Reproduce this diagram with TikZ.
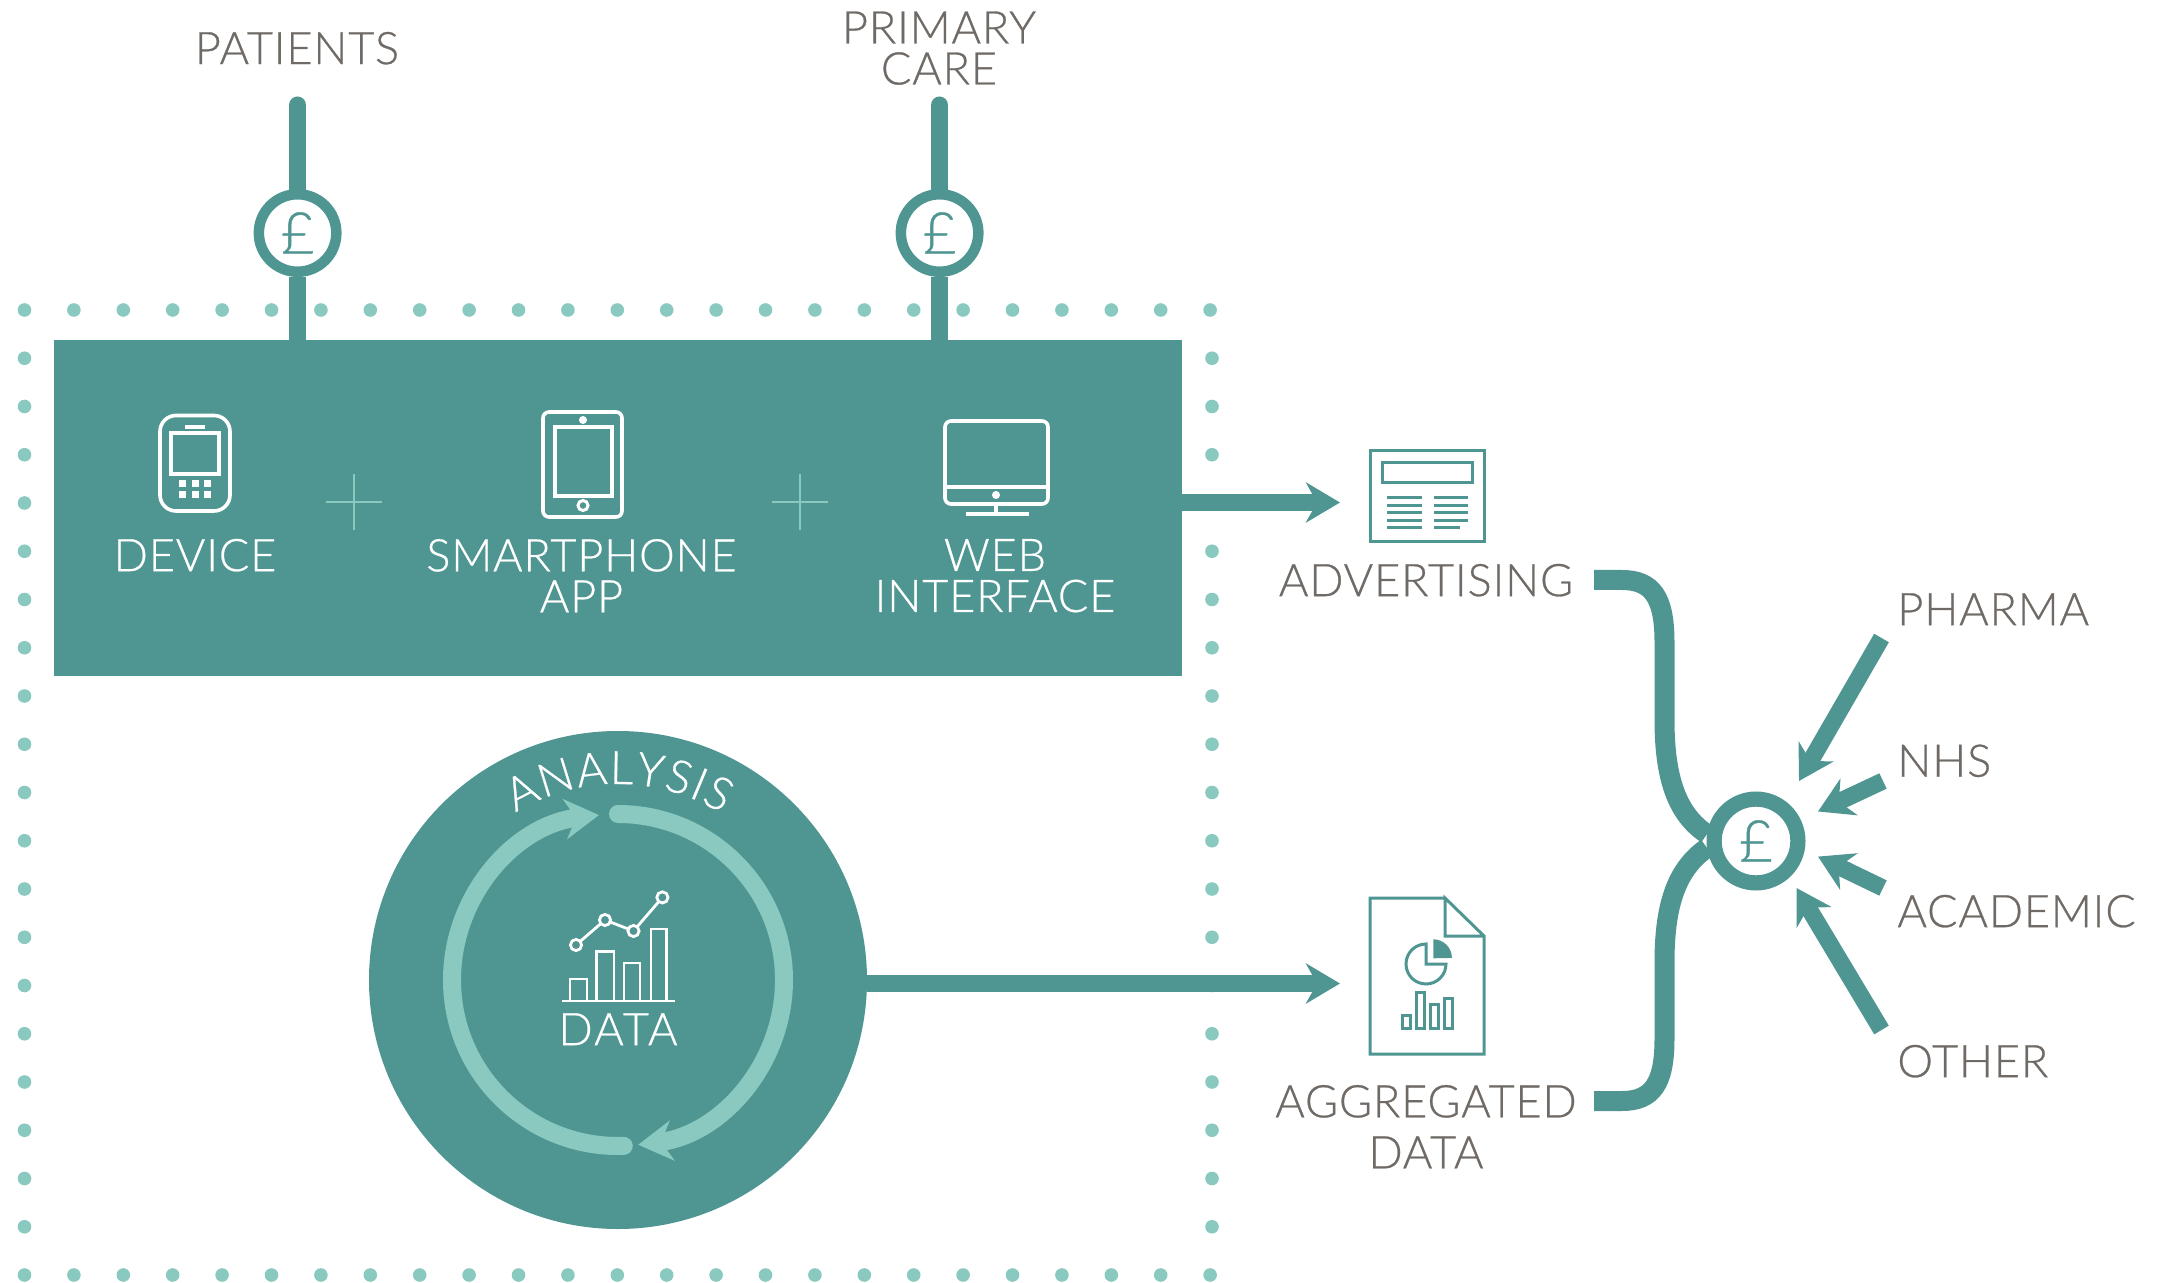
\documentclass[tikz,border=0pt]{standalone}
\usepackage{fontspec}
\usetikzlibrary{arrows.meta,backgrounds,decorations.text,calc}
\newfontfamily\lablight{Lato Light}[FakeBold=0.6,LetterSpace=2]
\newfontfamily\coinfont{Lato Light}[FakeBold=0.6]
\definecolor{teal1}{HTML}{4F9693}
\definecolor{mint}{HTML}{8AC9BF}
\definecolor{greytxt}{HTML}{6F6A65}
\newcommand{\labfont}{\lablight\fontsize{22.5}{20.5}\selectfont}
\tikzset{
  dotm/.style={fill=mint,draw=none},
  coin/.style={circle,fill=white,draw=teal1,line width=5.25pt,minimum size=38.75pt,inner sep=0pt,text=teal1,font=\coinfont\fontsize{29}{29}\selectfont},
  stem/.style={draw=teal1,line width=8.5pt},
  flow/.style={draw=teal1,line width=8.5pt,-{Stealth[length=17pt,width=20pt,inset=5.5pt]}},
  swoop/.style={draw=teal1,line width=10pt},
  darklab/.style={text=greytxt,font=\labfont,align=center,inner sep=0pt,yshift=-0.1pt},
  whitelab/.style={text=white,font=\labfont,align=center,inner sep=0pt,yshift=-0.1pt},
  wicon/.style={draw=white,line width=1.8pt},
  ticon/.style={draw=teal1,line width=1.5pt},
  chartl/.style={draw=white,line width=1.4pt},
  plusm/.style={draw=mint,line width=1.2pt},
  ring/.style={draw=mint,line width=9pt},
}
\begin{document}
\begin{tikzpicture}[x=0.5pt,y=-0.5pt]
\useasboundingbox (0,0) rectangle (2159,1283);
% main nodes
\node[fill=teal1,minimum width=564pt,minimum height=168pt,inner sep=0pt] (box) at (618,508) {};
\node[circle,fill=teal1,minimum size=249pt,inner sep=0pt] (big) at (618,980) {};
\node[coin] (c1) at (297.6,233) {£};
\node[coin] (c2) at (939.6,233) {£};
\node[coin,line width=7.6pt,minimum size=41.9pt] (c3) at (1756,841) {£};
\coordinate (p1) at (297.6,105);
\coordinate (p2) at (939.6,105);
\coordinate (a1s) at (box.east |- 0,502.5);
\coordinate (a1e) at (1340,502.5);
\coordinate (a2e) at (1340,983.5);
\coordinate (a2s) at (big.east |- a2e);
\coordinate (s1) at (1594,580);
\coordinate (s2) at (1594,1101);
\coordinate (r1s) at (1881.5,638);
\coordinate (r1e) at (1799,781);
\coordinate (r2s) at (1883,781);
\coordinate (r2e) at (1818,811.5);
\coordinate (r3s) at (1883,888);
\coordinate (r3e) at (1818,856.6);
\coordinate (r4s) at (1881.5,1030);
\coordinate (r4e) at (1796.5,888);
\begin{scope}[on background layer]
  \foreach \k in {0,...,24} {
    \fill[dotm] (24.5+49.4*\k,310) circle[radius=3.4pt];
    \fill[dotm] (24.5+49.4*\k,1275) circle[radius=3.4pt];
  }
  \foreach \k in {1,...,19} {
    \fill[dotm] (24.5,310+48.25*\k) circle[radius=3.4pt];
    \fill[dotm] (1212,310+48.25*\k) circle[radius=3.4pt];
  }
  \draw[stem,line cap=round] (p1) -- (c1);
  \draw[stem,line cap=round] (p2) -- (c2);
  \draw[stem] (c1) -- (c1 |- box.north);
  \draw[stem] (c2) -- (c2 |- box.north);
  \draw[flow] (a1s) -- (a1e);
  \draw[flow] (a2s) -- (a2e);
  \draw[swoop] (s1) -- ++(28,0) .. controls (1652,580) and (1664.5,597) .. (1664.5,642) -- (1664.5,720) .. controls (1664.5,780) and (1678,815) .. (c3.172);
  \draw[swoop] (s2) -- ++(28,0) .. controls (1652,1101) and (1664.5,1084) .. (1664.5,1039) -- (1664.5,962) .. controls (1664.5,902) and (1678,868) .. (c3.188);
  \draw[flow] (r1s) -- (r1e);
  \draw[flow] (r2s) -- (r2e);
  \draw[flow] (r3s) -- (r3e);
  \draw[flow] (r4s) -- (r4e);
\end{scope}
% top labels
\node[darklab] (lpat) at (297,48) {PATIENTS};
\node[darklab] (lprim) at (939,48) {PRIMARY\\CARE};
% phone
\draw[wicon,rounded corners=8pt] (160,415.5) rectangle (230,511);
\draw[wicon] (171,433) rectangle (219,474);
\draw[wicon] (185,427) -- (205,427);
\foreach \i in {0,1,2} \foreach \j in {0,1} \fill[white] (179+12.5*\i,480+11*\j) rectangle ++(7.2,6.6);
\node[whitelab] (ldev) at (195,555) {DEVICE};
% plus
\draw[plusm] (354,474) -- (354,530) (326,502) -- (382,502);
\draw[plusm] (800,474) -- (800,530) (772,502) -- (828,502);
% tablet
\draw[wicon,rounded corners=3pt] (543,412) rectangle (622,517);
\draw[wicon] (555,427) rectangle (612,496);
\fill[white] (583,420) circle[radius=2pt];
\draw[white,line width=1.5pt] (583,505.5) circle[radius=2.5pt];
\node[whitelab] (lapp) at (581.5,575.5) {SMARTPHONE\\APP};
% monitor
\draw[wicon,rounded corners=3pt] (945,421) rectangle (1048,504);
\draw[wicon] (945,487) -- (1048,487);
\fill[white] (996,495) circle[radius=2pt];
\draw[wicon] (996,504) -- (996,514) (966,514) -- (1029,514);
\node[whitelab] (lweb) at (995,575.5) {WEB\\INTERFACE};
% analysis
\coordinate (cc) at (618,980);
\draw[ring,line cap=round,-{Stealth[length=17pt,width=20pt,inset=5.5pt]}] (cc) ++(90:83pt) arc[start angle=90,end angle=-83,radius=83pt];
\draw[ring,line cap=round,-{Stealth[length=17pt,width=20pt,inset=5.5pt]}] (cc) ++(-88:83pt) arc[start angle=-88,end angle=-263.4,radius=83pt];
\path[decorate,decoration={text along path,text color=white,text align={fit to path},text={|\lablight\fontsize{23}{23}\selectfont|ANALYSIS}}] (cc) ++(121.5:98pt) arc[start angle=121.5,end angle=58,radius=98pt];
% chart
\draw[chartl] (562,1001) -- (675,1001);
\draw[chartl] (570,1001) -- (570,979) -- (587,979) -- (587,1001);
\draw[chartl] (596.5,1001) -- (596.5,951.5) -- (614,951.5) -- (614,1001);
\draw[chartl] (624,1001) -- (624,963) -- (640,963) -- (640,1001);
\draw[chartl] (651,1001) -- (651,929) -- (666.5,929) -- (666.5,1001);
\draw[chartl] (576,945) -- (605,920) -- (633.5,931) -- (662.4,897.4);
\foreach \p in {(576,945),(605,920),(633.5,931),(662.4,897.4)} \draw[chartl,fill=teal1] \p circle[radius=2.8pt];
\node[whitelab,font=\lablight\addfontfeature{LetterSpace=5}\fontsize{22.5}{22.5}\selectfont] (ldata) at (618,1029) {DATA};
% news icon
\draw[ticon] (1370,451) rectangle (1484,541.5);
\draw[ticon] (1382,463) rectangle (1472,483);
\foreach \y in {498,505.5,513,520.5} {\draw[ticon] (1387,\y) -- (1422,\y); \draw[ticon] (1434,\y) -- (1468,\y);}
\draw[ticon] (1387,528) -- (1422,528); \draw[ticon] (1434,528) -- (1460,528);
\node[darklab] (ladv) at (1426,580) {ADVERTISING};
% doc icon
\draw[ticon] (1445,898) -- (1370,898) -- (1370,1054) -- (1484,1054) -- (1484,936) -- (1445,898) -- (1445,936) -- (1484,936);
\coordinate (pie) at (1426,964);
\draw[ticon,line join=miter] (pie) ++(90:10pt) arc[start angle=90,end angle=360,radius=10pt] -- (pie) -- cycle;
\fill[teal1] (1433.3,958.3) -- (1433.3,939.3) arc[start angle=90,end angle=0,radius=9.3pt] -- cycle;
\foreach \a/\b/\t in {1402/1410/1015,1416/1424/992,1430/1438/1004,1444/1452/998} \draw[ticon] (\a,1028.6) rectangle (\b,\t);
\node[darklab,font=\lablight\fontsize{22.5}{25.5}\selectfont] (lagg) at (1426,1126.5) {AGGREGATED\\DATA};
% right labels
\node[darklab,anchor=west] (lpha) at (1897,609) {PHARMA};
\node[darklab,anchor=west] (lnhs) at (1897,760.6) {NHS};
\node[darklab,anchor=west] (laca) at (1897,911) {ACADEMIC};
\node[darklab,anchor=west] (loth) at (1897,1061) {OTHER};
\end{tikzpicture}
\end{document}
